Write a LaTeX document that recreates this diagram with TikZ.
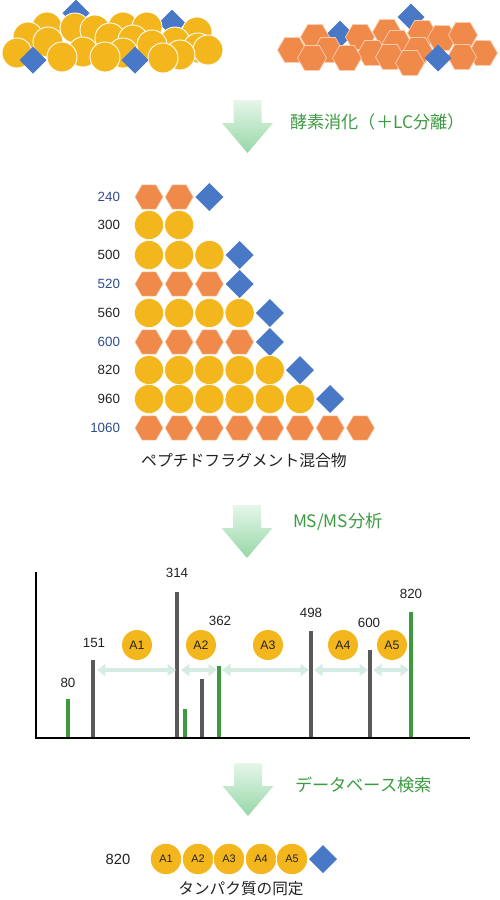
\documentclass[tikz,border=0pt]{standalone}
\usepackage{fontspec}
\setmainfont{Liberation Sans}
\newfontfamily\jp{Noto Sans CJK JP}
\usetikzlibrary{shapes.geometric,arrows.meta}
\definecolor{gold}{HTML}{F3B71D}
\definecolor{orng}{HTML}{F08A4B}
\definecolor{hexline}{HTML}{F9CDAE}
\definecolor{dblue}{HTML}{4878C6}
\definecolor{gtext}{HTML}{3C9A40}
\definecolor{lblue}{HTML}{2E4C8F}
\definecolor{lblack}{HTML}{222222}
\definecolor{bargray}{HTML}{595959}
\definecolor{bargreen}{HTML}{3F9A3F}
\definecolor{pale}{HTML}{D5ECE2}
\definecolor{arrtop}{HTML}{E6F6EA}
\definecolor{arrbot}{HTML}{96D7A6}
\begin{document}
\begin{tikzpicture}[x=0.02cm,y=-0.02cm,
  every node/.style={inner sep=0pt,outer sep=0pt},
  tcirc/.style={circle,fill=gold,draw=white,line width=0.5pt,minimum size=6mm},
  thex/.style={regular polygon,regular polygon sides=6,fill=orng,draw=hexline,line width=0.4pt,minimum size=5.8mm},
  tdia/.style={diamond,fill=dblue,minimum width=5.4mm,minimum height=5.4mm},
  circl/.style={circle,fill=gold,draw=white,line width=0.3pt,minimum size=5.8mm},
  hexl/.style={regular polygon,regular polygon sides=6,fill=orng,draw=hexline,line width=0.3pt,minimum size=5.6mm},
  diaml/.style={diamond,fill=dblue,minimum width=5.6mm,minimum height=5.6mm},
  numlab/.style={font=\fontsize{7.6}{9}\selectfont},
  greenlab/.style={font=\jp\fontsize{9.8}{12}\selectfont,text=gtext,anchor=west},
  caption/.style={font=\jp\fontsize{9}{11}\selectfont,text=lblack},
  bar/.style={line width=2.2pt},
  span/.style={pale,line width=2.4pt,{Triangle[width=2.4mm,length=1.7mm]}-{Triangle[width=2.4mm,length=1.7mm]}},
  acirc/.style={circle,fill=gold,minimum size=6mm,font=\fontsize{7}{8}\selectfont,text=lblack},
  bcirc/.style={circle,fill=gold,draw=white,line width=0.5pt,minimum size=6.3mm,font=\fontsize{6.2}{7}\selectfont,text=lblack},
  bigarr/.pic={\shade[top color=arrtop,bottom color=arrbot] (-14,0) -- (14,0) -- (14,23) -- (25.5,23) -- (0,53) -- (-25.5,23) -- (-14,23) -- cycle;}
]
\useasboundingbox (0,0) rectangle (500,900);

% ---- top left cluster ----
\node[tdia] (td1) at (76,13) {};
\node[tdia] (td2) at (172,23) {};
\foreach [count=\i] \x/\y in {47/27,75/28,95/30,123/27,147/27,197/32,28/37,110/38,133/40,175/42,48/42,152/45,198/48,208/50,17/53,83/52,123/53,180/55,62/57,105/57,163/58}
  \node[tcirc] (tc\i) at (\x,\y) {};
\node[tdia] (td3) at (33,60) {};
\node[tdia] (td4) at (135,60) {};

% ---- top right cluster ----
\node[tdia] (tdr1) at (340,34) {};
\node[tdia] (tdr2) at (411,17) {};
\foreach [count=\i] \x/\y in {315/37,360/37,387/32,422/33,442/38,463/35,292/50,328/50,397/43,418/50,372/53,483/53,312/58,347/58,390/57,410/63,462/57}
  \node[thex] (th\i) at (\x,\y) {};
\node[tdia] (tdr3) at (438,58) {};

% ---- arrow 1 ----
\pic at (247.5,100) {bigarr};
\node[greenlab] (g1) at (290,122) {酵素消化（＋LC分離）};

% ---- ladder ----
\foreach \lab/\yy/\kind/\n/\dj/\col in {
  240/197/hexl/2/3/lblue, 300/225/circl/2/0/lblack, 500/255/circl/3/4/lblack,
  520/284/hexl/3/4/lblue, 560/313/circl/4/5/lblack, 600/342/hexl/4/5/lblue,
  820/370/circl/5/6/lblack, 960/399/circl/6/7/lblack, 1060/428/hexl/8/0/lblue}{
  \node[numlab,anchor=east,text=\col] (lab\lab) at (120,\yy) {\lab};
  \foreach \j in {1,...,\n}
    \node[\kind] (r\lab-\j) at ({149+30.2*(\j-1)},\yy) {};
  \ifnum\dj>0
    \node[diaml] (d\lab) at ({149+30.2*(\dj-1)},\yy) {};
  \fi
}
\node[caption] (cap1) at (244,460) {ペプチドフラグメント混合物};

% ---- arrow 2 ----
\pic at (247,505) {bigarr};
\node[greenlab] (g2) at (293,522) {MS/MS分析};

% ---- spectrum ----
\foreach \nm/\x/\top/\col in {p80/68/699/bargreen, p151/93/660/bargray, p314/177/592/bargray,
  pa/185/709/bargreen, pb/202/679/bargray, p362/219/666/bargreen,
  p498/311/631/bargray, p600/370/650/bargray, p820/411/612/bargreen}{
  \coordinate (\nm b) at (\x,738);
  \coordinate (\nm t) at (\x,\top);
  \draw[bar,\col] (\nm b) -- (\nm t);
}
\coordinate (ytop) at (36,572);
\coordinate (orig) at (36,738);
\coordinate (xend) at (470,738);
\draw[black,line width=0.6pt] (ytop) -- (orig) -- (xend);

\foreach \t/\x/\y in {80/68/683,151/94/643,314/177/573,362/220/621,498/311/613,600/369/623,820/411/594}
  \node[numlab,text=lblack] (s\t) at (\x,\y) {\t};

\foreach \i/\a/\b in {1/97/176,2/181/217,3/222/309,4/314/368,5/373/409}{
  \coordinate (sa\i) at (\a,670);
  \coordinate (sb\i) at (\b,670);
  \draw[span] (sa\i) -- (sb\i);
}
\foreach \i/\x in {1/137,2/201,3/268,4/343,5/392}
  \node[acirc] (A\i) at (\x,645) {A\i};

% ---- arrow 3 ----
\pic at (248,763) {bigarr};
\node[greenlab] (g3) at (295,785) {データベース検索};

% ---- result ----
\node[font=\fontsize{8.4}{10}\selectfont,text=lblack] (res) at (118,859) {820};
\foreach \i/\x in {1/166,2/198,3/229,4/261,5/292}
  \node[bcirc] (B\i) at (\x,859) {A\i};
\node[diaml] (bd) at (323,859) {};
\node[caption,font=\jp\fontsize{8.9}{11}\selectfont] (cap2) at (241,889) {タンパク質の同定};
\end{tikzpicture}
\end{document}
